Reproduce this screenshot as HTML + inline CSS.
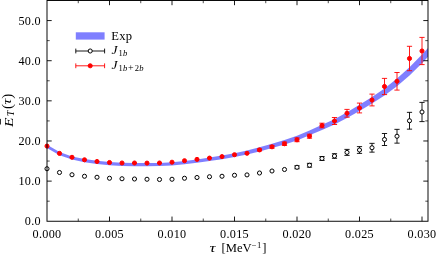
<!DOCTYPE html>
<html><head><meta charset="utf-8">
<style>
html,body{margin:0;padding:0;background:#fff;}
body{width:436px;height:256px;overflow:hidden;}
svg{display:block;will-change:transform;transform:translateZ(0);}
text{font-family:"Liberation Serif",serif;font-size:12.2px;fill:#000;}
</style></head><body>
<svg width="436" height="256" viewBox="0 0 436 256">
<rect width="436" height="256" fill="#fff"/>
<defs><clipPath id="ax"><rect x="47.0" y="0.5" width="381.0" height="220.75"/></clipPath></defs>
<g clip-path="url(#ax)">
<polygon points="47.00,144.70 59.50,152.10 72.00,156.40 84.50,159.00 97.00,160.80 109.50,162.00 122.00,162.80 134.50,163.10 147.00,163.10 159.50,162.90 172.00,162.30 184.50,161.10 197.00,159.45 209.50,157.60 222.00,155.60 234.50,153.30 247.00,150.40 259.50,147.20 272.00,143.75 284.50,140.05 297.00,135.75 309.50,130.45 322.00,124.85 334.50,119.20 347.00,112.30 359.50,104.85 372.00,96.95 384.50,88.40 397.00,78.50 409.50,67.20 422.00,54.50 429.00,46.80 429.00,55.60 422.00,63.30 409.50,75.60 397.00,86.30 384.50,95.60 372.00,103.45 359.50,110.95 347.00,118.00 334.50,124.60 322.00,129.95 309.50,135.35 297.00,140.45 284.50,144.55 272.00,148.05 259.50,151.40 247.00,154.40 234.50,157.10 222.00,159.20 209.50,161.00 197.00,162.75 184.50,164.30 172.00,165.50 159.50,166.10 147.00,166.30 134.50,166.30 122.00,166.00 109.50,165.20 97.00,164.00 84.50,162.20 72.00,159.60 59.50,155.30 47.00,147.90" fill="#0000ff" fill-opacity="0.5"/>
</g>
<path d="M297.00 165.75V168.75M294.40 165.75h5.2M294.40 168.75h5.2" stroke="#000" stroke-width="0.9" fill="none"/>
<path d="M309.50 163.35V167.15M306.90 163.35h5.2M306.90 167.15h5.2" stroke="#000" stroke-width="0.9" fill="none"/>
<path d="M322.00 156.50V160.50M319.40 156.50h5.2M319.40 160.50h5.2" stroke="#000" stroke-width="0.9" fill="none"/>
<path d="M334.50 153.70V158.30M331.90 153.70h5.2M331.90 158.30h5.2" stroke="#000" stroke-width="0.9" fill="none"/>
<path d="M347.00 149.40V155.40M344.40 149.40h5.2M344.40 155.40h5.2" stroke="#000" stroke-width="0.9" fill="none"/>
<path d="M359.50 146.60V153.40M356.90 146.60h5.2M356.90 153.40h5.2" stroke="#000" stroke-width="0.9" fill="none"/>
<path d="M372.00 143.35V152.15M369.40 143.35h5.2M369.40 152.15h5.2" stroke="#000" stroke-width="0.9" fill="none"/>
<path d="M384.50 133.50V145.50M381.90 133.50h5.2M381.90 145.50h5.2" stroke="#000" stroke-width="0.9" fill="none"/>
<path d="M397.00 129.35V143.15M394.40 129.35h5.2M394.40 143.15h5.2" stroke="#000" stroke-width="0.9" fill="none"/>
<path d="M409.50 112.35V129.15M406.90 112.35h5.2M406.90 129.15h5.2" stroke="#000" stroke-width="0.9" fill="none"/>
<path d="M422.00 102.40V121.60M419.40 102.40h5.2M419.40 121.60h5.2" stroke="#000" stroke-width="0.9" fill="none"/>
<circle cx="47.00" cy="168.75" r="2.05" fill="#fff" stroke="#000" stroke-width="1.0"/>
<circle cx="59.50" cy="172.50" r="2.05" fill="#fff" stroke="#000" stroke-width="1.0"/>
<circle cx="72.00" cy="174.75" r="2.05" fill="#fff" stroke="#000" stroke-width="1.0"/>
<circle cx="84.50" cy="176.25" r="2.05" fill="#fff" stroke="#000" stroke-width="1.0"/>
<circle cx="97.00" cy="177.25" r="2.05" fill="#fff" stroke="#000" stroke-width="1.0"/>
<circle cx="109.50" cy="178.25" r="2.05" fill="#fff" stroke="#000" stroke-width="1.0"/>
<circle cx="122.00" cy="178.75" r="2.05" fill="#fff" stroke="#000" stroke-width="1.0"/>
<circle cx="134.50" cy="179.00" r="2.05" fill="#fff" stroke="#000" stroke-width="1.0"/>
<circle cx="147.00" cy="179.25" r="2.05" fill="#fff" stroke="#000" stroke-width="1.0"/>
<circle cx="159.50" cy="179.50" r="2.05" fill="#fff" stroke="#000" stroke-width="1.0"/>
<circle cx="172.00" cy="179.25" r="2.05" fill="#fff" stroke="#000" stroke-width="1.0"/>
<circle cx="184.50" cy="178.25" r="2.05" fill="#fff" stroke="#000" stroke-width="1.0"/>
<circle cx="197.00" cy="177.50" r="2.05" fill="#fff" stroke="#000" stroke-width="1.0"/>
<circle cx="209.50" cy="176.75" r="2.05" fill="#fff" stroke="#000" stroke-width="1.0"/>
<circle cx="222.00" cy="176.25" r="2.05" fill="#fff" stroke="#000" stroke-width="1.0"/>
<circle cx="234.50" cy="175.25" r="2.05" fill="#fff" stroke="#000" stroke-width="1.0"/>
<circle cx="247.00" cy="174.90" r="2.05" fill="#fff" stroke="#000" stroke-width="1.0"/>
<circle cx="259.50" cy="173.00" r="2.05" fill="#fff" stroke="#000" stroke-width="1.0"/>
<circle cx="272.00" cy="171.00" r="2.05" fill="#fff" stroke="#000" stroke-width="1.0"/>
<circle cx="284.50" cy="169.50" r="2.05" fill="#fff" stroke="#000" stroke-width="1.0"/>
<circle cx="297.00" cy="167.25" r="2.05" fill="#fff" stroke="#000" stroke-width="1.0"/>
<circle cx="309.50" cy="165.25" r="2.05" fill="#fff" stroke="#000" stroke-width="1.0"/>
<circle cx="322.00" cy="158.50" r="2.05" fill="#fff" stroke="#000" stroke-width="1.0"/>
<circle cx="334.50" cy="156.00" r="2.05" fill="#fff" stroke="#000" stroke-width="1.0"/>
<circle cx="347.00" cy="152.40" r="2.05" fill="#fff" stroke="#000" stroke-width="1.0"/>
<circle cx="359.50" cy="150.00" r="2.05" fill="#fff" stroke="#000" stroke-width="1.0"/>
<circle cx="372.00" cy="147.75" r="2.05" fill="#fff" stroke="#000" stroke-width="1.0"/>
<circle cx="384.50" cy="139.50" r="2.05" fill="#fff" stroke="#000" stroke-width="1.0"/>
<circle cx="397.00" cy="136.25" r="2.05" fill="#fff" stroke="#000" stroke-width="1.0"/>
<circle cx="409.50" cy="120.75" r="2.05" fill="#fff" stroke="#000" stroke-width="1.0"/>
<circle cx="422.00" cy="112.00" r="2.05" fill="#fff" stroke="#000" stroke-width="1.0"/>
<path d="M259.50 148.90V150.90M256.90 148.90h5.2M256.90 150.90h5.2" stroke="#f00" stroke-width="0.9" fill="none"/>
<path d="M272.00 145.40V148.20M269.40 145.40h5.2M269.40 148.20h5.2" stroke="#f00" stroke-width="0.9" fill="none"/>
<path d="M284.50 142.05V145.45M281.90 142.05h5.2M281.90 145.45h5.2" stroke="#f00" stroke-width="0.9" fill="none"/>
<path d="M297.00 137.90V141.70M294.40 137.90h5.2M294.40 141.70h5.2" stroke="#f00" stroke-width="0.9" fill="none"/>
<path d="M309.50 134.20V138.20M306.90 134.20h5.2M306.90 138.20h5.2" stroke="#f00" stroke-width="0.9" fill="none"/>
<path d="M322.00 123.20V127.80M319.40 123.20h5.2M319.40 127.80h5.2" stroke="#f00" stroke-width="0.9" fill="none"/>
<path d="M334.50 117.50V124.50M331.90 117.50h5.2M331.90 124.50h5.2" stroke="#f00" stroke-width="0.9" fill="none"/>
<path d="M347.00 109.40V117.20M344.40 109.40h5.2M344.40 117.20h5.2" stroke="#f00" stroke-width="0.9" fill="none"/>
<path d="M359.50 103.10V112.90M356.90 103.10h5.2M356.90 112.90h5.2" stroke="#f00" stroke-width="0.9" fill="none"/>
<path d="M372.00 94.10V105.90M369.40 94.10h5.2M369.40 105.90h5.2" stroke="#f00" stroke-width="0.9" fill="none"/>
<path d="M384.50 78.40V94.60M381.90 78.40h5.2M381.90 94.60h5.2" stroke="#f00" stroke-width="0.9" fill="none"/>
<path d="M397.00 72.50V90.10M394.40 72.50h5.2M394.40 90.10h5.2" stroke="#f00" stroke-width="0.9" fill="none"/>
<path d="M409.50 46.30V70.70M406.90 46.30h5.2M406.90 70.70h5.2" stroke="#f00" stroke-width="0.9" fill="none"/>
<path d="M422.00 37.40V64.60M419.40 37.40h5.2M419.40 64.60h5.2" stroke="#f00" stroke-width="0.9" fill="none"/>
<circle cx="47.00" cy="146.10" r="2.05" fill="#f00" stroke="#f00" stroke-width="1.0"/>
<circle cx="59.50" cy="153.40" r="2.05" fill="#f00" stroke="#f00" stroke-width="1.0"/>
<circle cx="72.00" cy="157.30" r="2.05" fill="#f00" stroke="#f00" stroke-width="1.0"/>
<circle cx="84.50" cy="159.80" r="2.05" fill="#f00" stroke="#f00" stroke-width="1.0"/>
<circle cx="97.00" cy="161.50" r="2.05" fill="#f00" stroke="#f00" stroke-width="1.0"/>
<circle cx="109.50" cy="162.50" r="2.05" fill="#f00" stroke="#f00" stroke-width="1.0"/>
<circle cx="122.00" cy="163.00" r="2.05" fill="#f00" stroke="#f00" stroke-width="1.0"/>
<circle cx="134.50" cy="163.00" r="2.05" fill="#f00" stroke="#f00" stroke-width="1.0"/>
<circle cx="147.00" cy="163.10" r="2.05" fill="#f00" stroke="#f00" stroke-width="1.0"/>
<circle cx="159.50" cy="163.00" r="2.05" fill="#f00" stroke="#f00" stroke-width="1.0"/>
<circle cx="172.00" cy="162.20" r="2.05" fill="#f00" stroke="#f00" stroke-width="1.0"/>
<circle cx="184.50" cy="160.70" r="2.05" fill="#f00" stroke="#f00" stroke-width="1.0"/>
<circle cx="197.00" cy="159.40" r="2.05" fill="#f00" stroke="#f00" stroke-width="1.0"/>
<circle cx="209.50" cy="158.10" r="2.05" fill="#f00" stroke="#f00" stroke-width="1.0"/>
<circle cx="222.00" cy="156.60" r="2.05" fill="#f00" stroke="#f00" stroke-width="1.0"/>
<circle cx="234.50" cy="154.70" r="2.05" fill="#f00" stroke="#f00" stroke-width="1.0"/>
<circle cx="247.00" cy="153.30" r="2.05" fill="#f00" stroke="#f00" stroke-width="1.0"/>
<circle cx="259.50" cy="149.90" r="2.05" fill="#f00" stroke="#f00" stroke-width="1.0"/>
<circle cx="272.00" cy="146.80" r="2.05" fill="#f00" stroke="#f00" stroke-width="1.0"/>
<circle cx="284.50" cy="143.75" r="2.05" fill="#f00" stroke="#f00" stroke-width="1.0"/>
<circle cx="297.00" cy="139.80" r="2.05" fill="#f00" stroke="#f00" stroke-width="1.0"/>
<circle cx="309.50" cy="136.20" r="2.05" fill="#f00" stroke="#f00" stroke-width="1.0"/>
<circle cx="322.00" cy="125.50" r="2.05" fill="#f00" stroke="#f00" stroke-width="1.0"/>
<circle cx="334.50" cy="121.00" r="2.05" fill="#f00" stroke="#f00" stroke-width="1.0"/>
<circle cx="347.00" cy="113.30" r="2.05" fill="#f00" stroke="#f00" stroke-width="1.0"/>
<circle cx="359.50" cy="108.00" r="2.05" fill="#f00" stroke="#f00" stroke-width="1.0"/>
<circle cx="372.00" cy="100.00" r="2.05" fill="#f00" stroke="#f00" stroke-width="1.0"/>
<circle cx="384.50" cy="86.50" r="2.05" fill="#f00" stroke="#f00" stroke-width="1.0"/>
<circle cx="397.00" cy="81.30" r="2.05" fill="#f00" stroke="#f00" stroke-width="1.0"/>
<circle cx="409.50" cy="58.50" r="2.05" fill="#f00" stroke="#f00" stroke-width="1.0"/>
<circle cx="422.00" cy="51.00" r="2.05" fill="#f00" stroke="#f00" stroke-width="1.0"/>
<path d="M78.25 221.25v-2.70M78.25 0.50v2.70" stroke="#000" stroke-width="0.70"/>
<path d="M109.50 221.25v-4.70M109.50 0.50v4.70" stroke="#000" stroke-width="0.90"/>
<path d="M140.75 221.25v-2.70M140.75 0.50v2.70" stroke="#000" stroke-width="0.70"/>
<path d="M172.00 221.25v-4.70M172.00 0.50v4.70" stroke="#000" stroke-width="0.90"/>
<path d="M203.25 221.25v-2.70M203.25 0.50v2.70" stroke="#000" stroke-width="0.70"/>
<path d="M234.50 221.25v-4.70M234.50 0.50v4.70" stroke="#000" stroke-width="0.90"/>
<path d="M265.75 221.25v-2.70M265.75 0.50v2.70" stroke="#000" stroke-width="0.70"/>
<path d="M297.00 221.25v-4.70M297.00 0.50v4.70" stroke="#000" stroke-width="0.90"/>
<path d="M328.25 221.25v-2.70M328.25 0.50v2.70" stroke="#000" stroke-width="0.70"/>
<path d="M359.50 221.25v-4.70M359.50 0.50v4.70" stroke="#000" stroke-width="0.90"/>
<path d="M390.75 221.25v-2.70M390.75 0.50v2.70" stroke="#000" stroke-width="0.70"/>
<path d="M422.00 221.25v-4.70M422.00 0.50v4.70" stroke="#000" stroke-width="0.90"/>
<path d="M47.00 201.18h2.70M428.00 201.18h-2.70" stroke="#000" stroke-width="0.70"/>
<path d="M47.00 181.11h4.70M428.00 181.11h-4.70" stroke="#000" stroke-width="0.90"/>
<path d="M47.00 161.05h2.70M428.00 161.05h-2.70" stroke="#000" stroke-width="0.70"/>
<path d="M47.00 140.98h4.70M428.00 140.98h-4.70" stroke="#000" stroke-width="0.90"/>
<path d="M47.00 120.91h2.70M428.00 120.91h-2.70" stroke="#000" stroke-width="0.70"/>
<path d="M47.00 100.84h4.70M428.00 100.84h-4.70" stroke="#000" stroke-width="0.90"/>
<path d="M47.00 80.77h2.70M428.00 80.77h-2.70" stroke="#000" stroke-width="0.70"/>
<path d="M47.00 60.71h4.70M428.00 60.71h-4.70" stroke="#000" stroke-width="0.90"/>
<path d="M47.00 40.64h2.70M428.00 40.64h-2.70" stroke="#000" stroke-width="0.70"/>
<path d="M47.00 20.57h4.70M428.00 20.57h-4.70" stroke="#000" stroke-width="0.90"/>
<rect x="47.0" y="0.5" width="381.0" height="220.75" fill="none" stroke="#000" stroke-width="0.96"/>
<text x="47.00" y="238" text-anchor="middle" style="letter-spacing:0.3px">0.000</text>
<text x="109.50" y="238" text-anchor="middle" style="letter-spacing:0.3px">0.005</text>
<text x="172.00" y="238" text-anchor="middle" style="letter-spacing:0.3px">0.010</text>
<text x="234.50" y="238" text-anchor="middle" style="letter-spacing:0.3px">0.015</text>
<text x="297.00" y="238" text-anchor="middle" style="letter-spacing:0.3px">0.020</text>
<text x="359.50" y="238" text-anchor="middle" style="letter-spacing:0.3px">0.025</text>
<text x="422.00" y="238" text-anchor="middle" style="letter-spacing:0.3px">0.030</text>
<text x="41" y="225.35" text-anchor="end" style="letter-spacing:0.3px">0.0</text>
<text x="41" y="185.21" text-anchor="end" style="letter-spacing:0.3px">10.0</text>
<text x="41" y="145.08" text-anchor="end" style="letter-spacing:0.3px">20.0</text>
<text x="41" y="104.94" text-anchor="end" style="letter-spacing:0.3px">30.0</text>
<text x="41" y="64.81" text-anchor="end" style="letter-spacing:0.3px">40.0</text>
<text x="41" y="24.67" text-anchor="end" style="letter-spacing:0.3px">50.0</text>
<!-- legend -->
<rect x="75.8" y="32.3" width="28.8" height="7.3" fill="#0000ff" fill-opacity="0.5"/>
<text x="111.2" y="39.6" style="font-size:12.6px;letter-spacing:0.25px">Exp</text>
<path d="M75.8 51h28.8M75.8 48.6v4.8M104.6 48.6v4.8" stroke="#000" stroke-width="0.9" fill="none"/>
<circle cx="90.2" cy="51" r="2.05" fill="#fff" stroke="#000" stroke-width="1.0"/>
<text x="0" y="0" transform="translate(111.4,54.3) scale(1.08,1)" style="font-size:12.6px;font-style:italic">J</text>
<text x="118.5" y="56.4" style="font-size:8.6px;letter-spacing:0.2px">1<tspan style="font-style:italic">b</tspan></text>
<path d="M75.8 65.8h28.8M75.8 63.4v4.8M104.6 63.4v4.8" stroke="#f00" stroke-width="0.9" fill="none"/>
<circle cx="90.2" cy="65.8" r="2.05" fill="#f00" stroke="#f00" stroke-width="1.0"/>
<text x="0" y="0" transform="translate(111.4,69) scale(1.08,1)" style="font-size:12.6px;font-style:italic">J</text>
<text x="118.5" y="71.2" style="font-size:8.6px;letter-spacing:0.2px">1<tspan style="font-style:italic">b</tspan><tspan dx="0.6" style="font-size:10px">+</tspan><tspan dx="0.9">2</tspan><tspan style="font-style:italic">b</tspan></text>
<!-- x label -->
<text x="0" y="0" transform="translate(209.6,252.3) scale(1.3,1)" style="font-size:13px;font-style:italic">&#964;</text>
<text x="221.6" y="252.3" style="font-size:12.6px">[MeV<tspan dy="-4.6" style="font-size:8.6px;letter-spacing:0.5px">&#8722;1</tspan><tspan dy="4.6" dx="0.4">]</tspan></text>
<!-- y label -->
<g transform="translate(12.5,127.8) rotate(-90)">
<text x="0" y="0" transform="translate(0.8,0) scale(1.18,1)" style="font-size:13.2px;font-style:italic">E</text>
<text x="11.8" y="1.5" style="font-size:9.5px;font-style:italic">T</text>
<text x="18.8" y="-0.3" style="font-size:15px">(</text>
<text x="0" y="0" transform="translate(23.2,-1.2) scale(1.25,1)" style="font-size:13px;font-style:italic">&#964;</text>
<text x="29.0" y="-0.3" style="font-size:15px">)</text>
<path d="M3.3 -12h5.6" stroke="#000" stroke-width="0.8"/>
</g>
</svg>
</body></html>
